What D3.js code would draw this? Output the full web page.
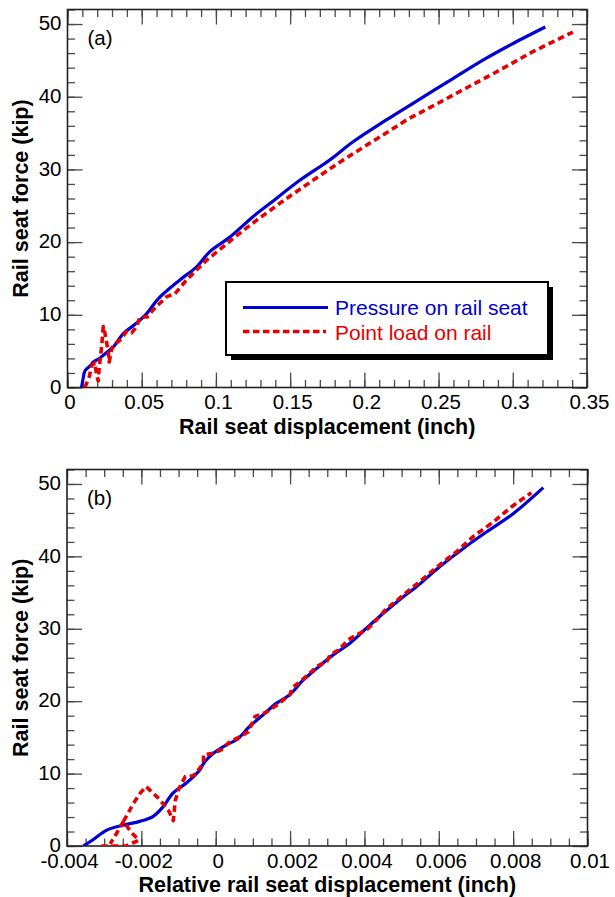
<!DOCTYPE html>
<html><head><meta charset="utf-8">
<script src="https://cdn.jsdelivr.net/npm/d3@7"></script>
<style>
html,body{margin:0;padding:0;background:#fff;}
svg{display:block;font-family:"Liberation Sans",Arial,sans-serif;}
</style></head>
<body>
<svg id="chart" width="615" height="897"></svg>
<script>
// ---------- DATA ----------
// Panel (a): rail seat displacement (inch) vs rail seat force (kip)
const blueA_x = [0.0095,0.0098,0.0105,0.0118,0.0154,0.0174,0.0221,0.0286,0.031,0.0376,0.0468,0.0535,0.0611,0.0757,0.087,0.0959,0.1094,0.125,0.1363,0.1565,0.1767,0.1924,0.214,0.2328,0.2597,0.2822,0.3046,0.3219];
const blueA_F = [0,0.4,1.2,2.3,3.0,3.5,4.1,5.2,5.6,7.4,8.9,10.2,12.2,14.8,16.6,18.7,20.7,23.5,25.3,28.5,31.3,33.8,36.7,39.1,42.5,45.3,47.8,49.6];
const redA_x = [0.0115,0.0125,0.0147,0.0163,0.0185,0.0196,0.0207,0.0214,0.023,0.0241,0.0252,0.0264,0.0275,0.0281,0.0297,0.0308,0.0353,0.0398,0.0432,0.0466,0.0488,0.0537,0.0578,0.0607,0.0668,0.0724,0.0802,0.0937,0.1116,0.1273,0.1475,0.1654,0.1857,0.2036,0.2216,0.2283,0.2496,0.2687,0.2889,0.3135,0.3405];
const redA_F = [0,0.4,1.5,3.0,3.4,1.7,0.9,2.8,5.6,8.4,7.5,6.1,4.9,3.5,5.2,5.8,6.5,7.7,7.5,8.4,9.7,9.7,10.7,11.3,12.5,12.9,14.8,17.5,20.5,23.0,26.0,28.5,31.3,33.6,35.9,36.8,39.1,41.2,43.4,46.2,48.9];

// Panel (b): relative rail seat displacement (inch) vs rail seat force (kip)
const blueB_x = [-0.00356,-0.00329,-0.00293,-0.00248,-0.00204,-0.00168,-0.00142,-0.00115,-0.00079,-0.00043,-0.0003,-0.00006,0.0003,0.00057,0.00091,0.00127,0.00163,0.00199,0.00235,0.00271,0.00316,0.00361,0.00406,0.0045,0.00504,0.0054,0.00603,0.00666,0.00729,0.008,0.00881];
const blueB_F = [0,0.9,2.2,2.9,3.4,4.1,5.4,7.3,8.7,10.5,11.6,12.8,14.0,14.7,16.5,18.1,19.7,20.9,22.9,24.5,26.4,28.0,30.1,32.1,34.4,35.8,38.6,41.1,43.4,45.9,49.5];
// null marks a break in the recorded trace
const redB_x = [-0.00308,-0.00241,-0.00207,-0.00229,-0.00248,-0.00266,-0.00284,null,-0.00248,-0.00221,-0.00203,-0.00187,-0.0015,-0.00127,-0.00114,-0.00109,-0.001,-0.00082,-0.0006,-0.00042,-0.00033,-0.00033,-0.00006,0.00016,0.00039,0.00066,0.00088,0.00106,0.00133,0.0016,0.00178,0.002,0.00205,0.00227,0.0025,0.00272,0.00299,0.00308,0.00331,0.00357,0.0038,0.00407,0.00434,0.00456,0.00501,0.00555,0.00604,0.00649,0.00694,0.00748,0.00797,0.00849];
const redB_F = [0,0,0.8,2.0,3.4,1.8,0.3,null,3.4,5.9,7.3,8.2,6.4,4.9,3.5,6.2,7.8,9.6,9.7,10.8,11.5,12.6,12.8,13.3,14.45,15.1,15.8,17.9,18.4,19.3,20.0,20.9,21.8,22.7,23.7,24.8,25.5,26.4,27.1,28.5,29.2,29.9,31.3,32.6,34.5,36.8,38.9,40.7,42.8,44.8,46.9,48.8];

// Ticks
const yTicks = [0,10,20,30,40,50];
const xTicksA = [0,0.05,0.1,0.15,0.2,0.25,0.3,0.35];
const xLabelsA = ["0","0.05","0.1","0.15","0.2","0.25","0.3","0.35"];
const xTicksB = [-0.004,-0.002,0,0.002,0.004,0.006,0.008,0.01];
const xLabelsB = ["-0.004","-0.002","0","0.002","0.004","0.006","0.008","0.01"];
const seriesNames = ["Pressure on rail seat","Point load on rail"];
const yTitle = "Rail seat force (kip)";

// ---------- DRAWING ----------
const svg = d3.select("#chart");
const BLUE = "#0000d2", RED = "#e60000", FRAME = "#222";

function minorRange(a, b, step){
  const n = Math.round((b - a) / step);
  return d3.range(n + 1).map(i => +(a + i * step).toFixed(6));
}

function panel(opt){
  const {left, right, top, bottom, xDomain, xTicks, xLabels, xMinorStep, blue, red, label, xTitle, id} = opt;
  const x = d3.scaleLinear().domain(xDomain).range([left, right]);
  const y = d3.scaleLinear().domain([0, 52]).range([bottom, top]);
  const g = svg.append("g");

  g.append("clipPath").attr("id", "clip" + id)
    .append("rect").attr("x", left).attr("y", top).attr("width", right - left).attr("height", bottom - top);

  const xMinor = minorRange(xDomain[0], xDomain[1], xMinorStep);
  const yMinor = minorRange(0, 52, 2);
  const tickStyle = sel => { sel.select(".domain").remove(); sel.selectAll(".tick line").attr("stroke", "#4a4a4a").attr("stroke-width", 1.3); };

  // minor ticks
  g.append("g").attr("transform", `translate(0,${bottom})`)
    .call(d3.axisBottom(x).tickValues(xMinor).tickSize(-7.5).tickFormat(""))
    .call(tickStyle);
  g.append("g").attr("transform", `translate(0,${top})`)
    .call(d3.axisTop(x).tickValues(xMinor).tickSize(-7.5).tickFormat(""))
    .call(tickStyle);
  g.append("g").attr("transform", `translate(${left},0)`)
    .call(d3.axisLeft(y).tickValues(yMinor).tickSize(-7.5).tickFormat(""))
    .call(tickStyle);
  g.append("g").attr("transform", `translate(${right},0)`)
    .call(d3.axisRight(y).tickValues(yMinor).tickSize(-7.5).tickFormat(""))
    .call(tickStyle);

  // major ticks + labels
  g.append("g").attr("transform", `translate(0,${bottom})`)
    .call(d3.axisBottom(x).tickValues(xTicks).tickSize(-15).tickPadding(8)
      .tickFormat((d, i) => xLabels[i]))
    .call(tickStyle)
    .call(s => s.selectAll("text").attr("font-size", 20.5).attr("fill", "#000")
      .attr("font-family", "'Liberation Sans', Arial, sans-serif").attr("dx", 2).attr("dy", "1.06em").attr("y", 0));
  g.append("g").attr("transform", `translate(0,${top})`)
    .call(d3.axisTop(x).tickValues(xTicks).tickSize(-15).tickFormat(""))
    .call(tickStyle);
  g.append("g").attr("transform", `translate(${left},0)`)
    .call(d3.axisLeft(y).tickValues(yTicks).tickSize(-15).tickPadding(6))
    .call(tickStyle)
    .call(s => s.selectAll("text").attr("font-size", 20.5).attr("fill", "#000")
      .attr("font-family", "'Liberation Sans', Arial, sans-serif").attr("x", -6).attr("dy", "0.28em"));
  g.append("g").attr("transform", `translate(${right},0)`)
    .call(d3.axisRight(y).tickValues(yTicks).tickSize(-15).tickFormat(""))
    .call(tickStyle);

  // frame
  g.append("rect").attr("x", left).attr("y", top).attr("width", right - left).attr("height", bottom - top)
    .attr("fill", "none").attr("stroke", FRAME).attr("stroke-width", 1.6);

  // curves
  const line = d3.line().defined(d => d[0] !== null && d[1] !== null).x(d => x(d[0])).y(d => y(d[1]));
  const plot = g.append("g").attr("clip-path", `url(#clip${id})`);
  plot.append("path").datum(blue[0].map((v, i) => [v, blue[1][i]]))
    .attr("d", line.curve(d3.curveCatmullRom.alpha(0.5)))
    .attr("fill", "none").attr("stroke", BLUE).attr("stroke-width", 3.2).attr("stroke-linejoin", "round");
  plot.append("path").datum(red[0].map((v, i) => [v, red[1][i]]))
    .attr("d", line.curve(d3.curveLinear))
    .attr("fill", "none").attr("stroke", RED).attr("stroke-width", 3.6)
    .attr("stroke-dasharray", "6.5,4").attr("stroke-linejoin", "round");

  // panel label
  g.append("text").attr("x", left + 20).attr("y", top + 35).attr("font-size", 20.5).attr("fill", "#000").text(label);

  // titles
  g.append("text").attr("x", (left + right) / 2).attr("y", bottom + 46)
    .attr("text-anchor", "middle").attr("font-size", 21.5).attr("font-weight", "bold").attr("fill", "#000").text(xTitle);
  g.append("text").attr("transform", `translate(28,${(top + bottom) / 2}) rotate(-90)`)
    .attr("text-anchor", "middle").attr("font-size", 21.5).attr("font-weight", "bold").attr("fill", "#000").text(yTitle);
  return {x, y, g};
}

panel({id: "a", left: 67.5, right: 587, top: 9.5, bottom: 387.5,
  xDomain: [0, 0.35], xTicks: xTicksA, xLabels: xLabelsA, xMinorStep: 0.01,
  blue: [blueA_x, blueA_F], red: [redA_x, redA_F], label: "(a)",
  xTitle: "Rail seat displacement (inch)"});

panel({id: "b", left: 67, right: 587.5, top: 469.5, bottom: 846,
  xDomain: [-0.004, 0.01], xTicks: xTicksB, xLabels: xLabelsB, xMinorStep: 0.0005,
  blue: [blueB_x, blueB_F], red: [redB_x, redB_F], label: "(b)",
  xTitle: "Relative rail seat displacement (inch)"});

// legend (panel a)
const lg = svg.append("g");
lg.append("rect").attr("x", 231).attr("y", 287).attr("width", 322).attr("height", 73).attr("fill", "#000");
lg.append("rect").attr("x", 226).attr("y", 282).attr("width", 322).attr("height", 73)
  .attr("fill", "#fff").attr("stroke", "#000").attr("stroke-width", 2);
lg.append("line").attr("x1", 243).attr("x2", 328).attr("y1", 307.5).attr("y2", 307.5)
  .attr("stroke", BLUE).attr("stroke-width", 3.2);
lg.append("line").attr("x1", 243).attr("x2", 326).attr("y1", 331.5).attr("y2", 331.5)
  .attr("stroke", RED).attr("stroke-width", 3.6).attr("stroke-dasharray", "6.5,3.5");
lg.append("text").attr("x", 335).attr("y", 314.5).attr("font-size", 21).attr("fill", BLUE).text(seriesNames[0]);
lg.append("text").attr("x", 335).attr("y", 339.5).attr("font-size", 21).attr("fill", RED).text(seriesNames[1]);
</script>
</body></html>
